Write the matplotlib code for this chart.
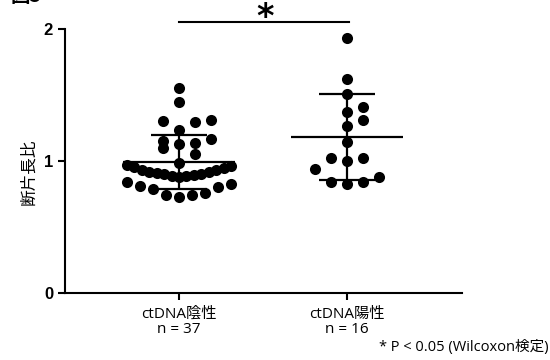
import numpy as np
import matplotlib
matplotlib.use("Agg")
import matplotlib.pyplot as plt

plt.rcParams['font.family'] = ['Noto Sans CJK JP', 'DejaVu Sans']

# data (fragment length ratio per patient)
groups = ["ctDNA陰性\nn = 37", "ctDNA陽性\nn = 16"]
neg_vals = [0.73, 0.742, 0.742, 0.755, 0.79, 0.80, 0.81, 0.83, 0.843,
            0.88, 0.885, 0.89, 0.895, 0.90, 0.905, 0.91, 0.915, 0.92, 0.93,
            0.935, 0.945, 0.955, 0.96, 0.97,
            0.985, 1.053, 1.096, 1.13, 1.134, 1.154, 1.17, 1.235, 1.30, 1.305,
            1.31, 1.45, 1.555]
pos_vals = [0.826, 0.84, 0.84, 0.88, 0.937, 1.00, 1.02, 1.02, 1.146,
            1.265, 1.31, 1.37, 1.41, 1.51, 1.62, 1.93]
yticks = [0, 1, 2]
footnote = "* P < 0.05 (Wilcoxon検定)"

latin_jp = ["Open Sans", "Noto Sans CJK JP"]


def swarm_offsets(vals, row_h=0.125, step=0.095, half_w=0.31):
    # GraphPad-like: bin into rows from the group minimum, spread each row
    v = np.asarray(vals, dtype=float)
    rows = np.floor((v - v.min()) / row_h + 1e-9).astype(int)
    off = np.zeros(len(v))
    for r in np.unique(rows):
        idx = np.where(rows == r)[0]
        idx = idx[np.argsort(v[idx], kind="stable")]
        n = len(idx)
        sp = step if n < 2 else min(step, half_w / ((n - 1) / 2))
        for k, i in enumerate(idx):
            m = (k + 1) // 2
            off[i] = sp * m * (1 if k % 2 == 1 else -1)
    return off


fig = plt.figure(figsize=(5.5, 3.6), dpi=100)
ax = fig.add_axes([0.118, 0.186, 0.722, 0.733])

for gi, vals in enumerate([neg_vals, pos_vals]):
    vals = np.asarray(vals)
    xs = gi + swarm_offsets(vals)
    ax.scatter(xs, vals, s=64, color="black", zorder=2, linewidths=0)
    m = vals.mean()
    sd = vals.std(ddof=1)
    ax.hlines(m, gi - 0.335, gi + 0.335, color="black", lw=1.6, zorder=3)
    ax.errorbar(gi, m, yerr=sd, color="black", lw=1.6, capsize=20,
                capthick=1.6, zorder=3)

# significance bar
ax.plot([0, 1.01], [2.053, 2.053], color="black", lw=1.5, clip_on=False)
ax.text(0.51, 2.215, "*", ha="center", va="top", fontsize=24,
        fontweight="bold", family="DejaVu Sans", clip_on=False)

ax.set_xlim(-0.679, 1.685)
ax.set_ylim(0, 2)
ax.set_yticks(yticks)
ax.set_yticklabels([str(t) for t in yticks], fontsize=12, fontweight="bold",
                   family="Liberation Sans")
ax.set_xticks([0, 1])
ax.set_xticklabels(groups, fontsize=11, linespacing=1.0, family=latin_jp)
ax.tick_params(axis="both", direction="out", length=5, width=1.5)
ax.tick_params(axis="x", pad=5)
for s in ["top", "right"]:
    ax.spines[s].set_visible(False)
for s in ["left", "bottom"]:
    ax.spines[s].set_linewidth(1.5)

ax.set_ylabel("断片長比", fontsize=12)
ax.yaxis.set_label_coords(-0.07, 0.46)

fig.text(0.997, 0.015, footnote, ha="right", va="bottom", fontsize=10.5,
         family=latin_jp)
fig.text(0.02, 1 - 6 / 360, "図3", ha="left", va="bottom", fontsize=14,
         fontweight="bold")

fig.savefig("out.png", dpi=100)
